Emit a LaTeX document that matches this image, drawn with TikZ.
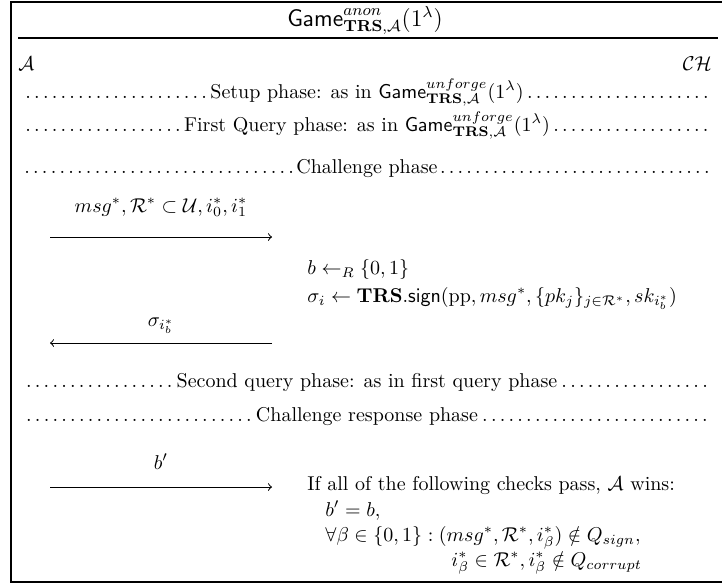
\documentclass[tikz,border=0pt]{standalone}
\usepackage{amsmath,amssymb}
\usetikzlibrary{positioning}
\newcommand{\phaseline}[1]{\hbox to 345pt{\dotfill#1\dotfill}}
\newcommand{\gamename}[1]{\mathsf{Game}^{#1}_{\mathbf{TRS},\mathcal{A}}(1^{\lambda})}

\begin{document}
\begin{tikzpicture}[x=0.5pt, y=-0.5pt, >=to,
  txt/.style={inner sep=0pt, anchor=base west},
  phase/.style={inner sep=0pt, anchor=base},
  msg/.style={->, line width=0.5pt}]
\useasboundingbox (0,0) rectangle (722,585);
% frame and title
\draw[line width=0.6pt] (740,2) -- (11,2) -- (11,582) -- (740,582);
\node[phase, font=\large] (title) at (365,26) {$\gamename{anon}$};
\draw[line width=0.6pt] (18,38) -- (718,38);
\node[txt] (adv) at (18,70) {$\mathcal{A}$};
\node[phase, anchor=base east] (chal) at (712,70) {$\mathcal{CH}$};
% phases
\node[phase] (setup) at (367,98) {\phaseline{Setup phase: as in $\gamename{unforge}$}};
\node[phase] (query1) at (367,131) {\phaseline{First Query phase: as in $\gamename{unforge}$}};
\node[phase] (chall) at (367,173) {\phaseline{Challenge phase}};
\node[phase] (query2) at (367,387) {\phaseline{Second query phase: as in first query phase}};
\node[phase] (resp) at (367,421) {\phaseline{Challenge response phase}};
% challenge
\coordinate (a1) at (50,237);
\coordinate (c1) at (272,237);
\draw[msg] (a1) -- node[midway, anchor=base, yshift=12.5pt] (m1) {$msg^*, \mathcal{R}^* \subset \mathcal{U}, i_0^*, i_1^*$} (c1);
\node[txt] (pick) at (307,274) {$b \leftarrow_R \{0,1\}$};
\node[txt] (sign) at (307,302) {$\sigma_i \leftarrow \mathbf{TRS}.\mathsf{sign}(\mathrm{pp}, msg^*, \{pk_j\}_{j\in\mathcal{R}^*}, sk_{i_b^*})$};
\coordinate (c2) at (272,343);
\coordinate (a2) at (50,343);
\draw[msg] (c2) -- node[midway, anchor=base, yshift=8.5pt] (m2) {$\sigma_{i_b^*}$} (a2);
% response
\coordinate (a3) at (50,487);
\coordinate (c3) at (272,487);
\draw[msg] (a3) -- node[midway, anchor=base, yshift=9pt] (m3) {$b'$} (c3);
\node[txt] (win) at (307,490) {If all of the following checks pass, $\mathcal{A}$ wins:};
\node[txt] (chk1) at (325,516) {$b' = b,$};
\node[txt] (chk2) at (325,541) {$\forall \beta \in \{0,1\} : (msg^*, \mathcal{R}^*, i_\beta^*) \notin Q_{sign},$};
\node[txt] (chk3) at (451,566) {$i_\beta^* \in \mathcal{R}^*, i_\beta^* \notin Q_{corrupt}$};
\end{tikzpicture}
\end{document}
